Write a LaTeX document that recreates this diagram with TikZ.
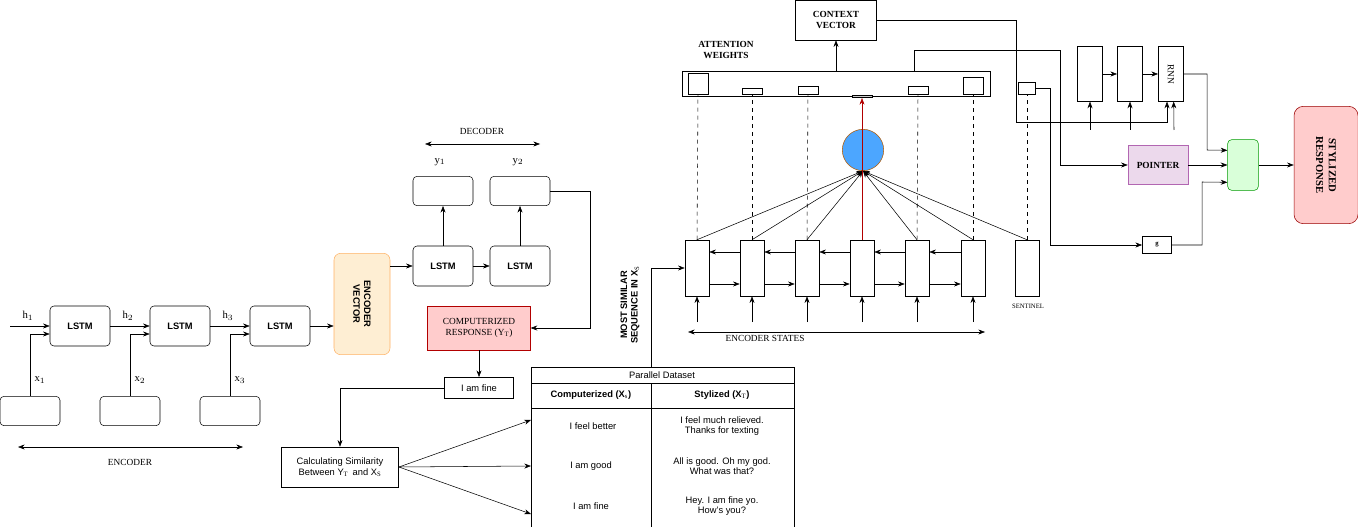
\documentclass[tikz,border=0pt]{standalone}
\usepackage{fontspec}
\setmainfont{Liberation Serif}
\setsansfont{Liberation Sans}
\usepackage{tikz}
\usetikzlibrary{arrows.meta}
\tikzset{
  >={Stealth[length=5pt]},
  lstm/.style={draw, rounded corners=3pt, minimum width=45pt, minimum height=30pt, font=\sffamily\bfseries\scriptsize},
  inbox/.style={draw, rounded corners=3pt, minimum width=45pt, minimum height=22pt},
  state/.style={draw, minimum width=18pt, minimum height=42pt},
  rnnbox/.style={draw, minimum width=19pt, minimum height=41pt},
  lab/.style={font=\footnotesize},
  wt/.style={draw, inner sep=0pt, anchor=south}
}
\begin{document}
\begin{tikzpicture}[x=0.75pt, y=-0.75pt]
\useasboundingbox (0,0) rectangle (1358,527);

% encoder
\foreach \i/\x in {1/80,2/180,3/280}{
  \node[lstm] (L\i) at (\x,326) {LSTM};
  \node[inbox] (X\i) at (\x-50,411) {};
  \draw[->] (X\i.north) |- ([yshift=-6pt]L\i.west);
  \node[lab] at (\x-40,380) {x$_{\i}$};
  \node[lab] at (\x-52,316) {h$_{\i}$};
}
\coordinate (h0) at (10,326);
\draw[->] (h0) -- (L1);
\draw[->] (L1) -- (L2);
\draw[->] (L2) -- (L3);
\coordinate (ea) at (18,447); \coordinate (eb) at (243,447);
\draw[<->] (ea) -- (eb);
\node[font=\scriptsize] at (130,462) {ENCODER};

\node[draw=orange!60, fill=yellow!20!orange!15, rounded corners=5pt, minimum width=42pt, minimum height=76pt] (EV) at (362,304) {};
\node[rotate=-90, align=center, font=\sffamily\bfseries\scriptsize] at (EV) {ENCODER\\VECTOR};
\draw[->] (L3) -- (L3 -| EV.west);

% decoder
\node[lstm] (D1) at (443,266) {LSTM};
\node[lstm] (D2) at (520,266) {LSTM};
\node[inbox] (Y1) at (443,191) {};
\node[inbox] (Y2) at (520,191) {};
\draw[->] (EV.east |- D1) -- (D1);
\draw[->] (D1) -- (D2);
\draw[->] (D1) -- (Y1);
\draw[->] (D2) -- (Y2);
\node[lab] at (440,162) {y$_1$};
\node[lab] at (518,162) {y$_2$};
\coordinate (da) at (425,144); \coordinate (db) at (540,144);
\draw[<->] (da) -- (db);
\node[font=\scriptsize] at (482,131) {DECODER};

\node[draw=red!70!black, fill=red!20, minimum width=77pt, minimum height=33pt, align=center, font=\scriptsize, inner sep=1pt] (CR) at (479,328) {COMPUTERIZED\\RESPONSE (Y$_\mathrm{T}$)};
\draw[->] (Y2.east) -| (590,328) -- (CR.east);
\node[draw, minimum width=52pt, minimum height=16pt, font=\sffamily\scriptsize] (F) at (479,388) {I am fine};
\draw[->] (CR) -- (F);
\node[draw, minimum width=88pt, minimum height=30pt, align=center, font=\sffamily\scriptsize, inner sep=1pt] (CS) at (340,467) {Calculating Similarity\\Between Y$_\mathrm{T}$\, and X$_\mathrm{S}$};
\draw[->] (F.west) -| (CS.north);

% parallel dataset
\draw (531,367) rectangle (794,527);
\draw (531,383) -- (794,383) (531,408) -- (794,408) (651,383) -- (651,527);
\node[font=\sffamily\scriptsize] (PD) at (662,375) {Parallel Dataset};
\node[font=\sffamily\bfseries\scriptsize] at (591,395) {Computerized (X$_\mathrm{s}$)};
\node[font=\sffamily\bfseries\scriptsize] at (722,395) {Stylized (X$_\mathrm{T}$)};
\node[font=\sffamily\scriptsize] (R1) at (593,426) {I feel better};
\node[font=\sffamily\scriptsize] (R2) at (591,466) {I am good};
\node[font=\sffamily\scriptsize] (R3) at (591,506) {I am fine};
\node[font=\sffamily\scriptsize, align=center] at (722,426) {I feel much relieved.\\Thanks for texting};
\node[font=\sffamily\scriptsize, align=center] at (722,466) {All is good. Oh my god.\\What was that?};
\node[font=\sffamily\scriptsize, align=center] at (722,506) {Hey. I am fine yo.\\How's you?};
\coordinate (t1) at (531,420); \coordinate (t2) at (531,466); \coordinate (t3) at (531,514);
\draw[->] (CS.east) -- (t1);
\draw[->] (CS.east) -- (t2);
\draw[->] (CS.east) -- (t3);
\node[rotate=90, align=center, font=\sffamily\bfseries\scriptsize] at (630,305) {MOST SIMILAR\\SEQUENCE IN X$_\mathrm{S}$};

% encoder states
\foreach \i/\x in {1/697,2/752,3/807,4/862,5/917,6/973}{
  \node[state] (S\i) at (\x,268) {};
  \coordinate (s\i) at (\x,322);
  \draw[->] (s\i) -- (S\i.south);
}
\node[state] (S7) at (1027,268) {};
\node[font=\tiny] at (1028,306) {SENTINEL};
\draw[->] (651,367) |- (S1.west);
\foreach \a/\b in {1/2,2/3,3/4,4/5,5/6}{
  \draw[->] ([yshift=-12pt]S\a.east) -- ([yshift=-12pt]S\b.west);
  \draw[->] ([yshift=12pt]S\b.west) -- ([yshift=12pt]S\a.east);
}
\coordinate (sa) at (688,332); \coordinate (sb) at (985,332);
\draw[<->] (sa) -- (sb);
\node[font=\scriptsize] at (765,338) {ENCODER STATES};

% attention
\node[draw=orange!70!black, fill=blue!50!cyan!70, circle, minimum size=31pt, inner sep=0pt] (C) at (863,150) {};
\foreach \i in {1,2,3,5,6}{ \draw[->] (S\i.north) -- (C.south); }
\draw[->] (S7.north) -- (C.south);
\node[draw, minimum width=231pt, minimum height=19pt] (AW) at (836,83.5) {};
\node[font=\scriptsize\bfseries, align=center] at (726,50) {ATTENTION\\WEIGHTS};
\node[wt, minimum width=15pt, minimum height=16pt] (W1) at (698,95) {};
\node[wt, minimum width=15pt, minimum height=5pt] (W2) at (752,95) {};
\node[wt, minimum width=15pt, minimum height=6pt] (W3) at (808,95) {};
\node[wt, fill=gray!40, minimum width=15pt, minimum height=2pt] (W4) at (862,98) {};
\node[wt, minimum width=15pt, minimum height=6pt] (W5) at (918,95) {};
\node[wt, minimum width=15pt, minimum height=13pt] (W6) at (973,95) {};
\foreach \i in {1,2,3,5,6}{ \draw[dashed] (S\i.north) -- (W\i.south); }
\draw[->, red!70!black, thin] (S4.north) -- (W4.south);
\node[draw, minimum width=13pt, minimum height=9pt, inner sep=0pt] (SW) at (1027,88) {};
\draw[dashed] (S7.north) -- (SW.south);

\node[draw, minimum width=61pt, minimum height=30pt, align=center, font=\scriptsize\bfseries, inner sep=1pt] (CV) at (836,20) {CONTEXT\\VECTOR};
\draw[->] (AW.north) -- (CV.south);

% rnn
\node[rnnbox] (N1) at (1090,74) {};
\node[rnnbox] (N2) at (1130,74) {};
\node[rnnbox] (N3) at (1171,74) {};
\node[rotate=-90, font=\scriptsize] at (N3) {RNN};
\draw[->] (N1) -- (N2);
\draw[->] (N2) -- (N3);
\coordinate (n1) at (1090,130); \coordinate (n2) at (1130,130); \coordinate (n3) at (1174,130);
\draw[->] (n1) -- (N1.south);
\draw[->] (n2) -- (N2.south);
\draw[->] (n3) -- ([xshift=2pt]N3.south);
\draw[->] (CV.east) -| (1016,122) -| ([xshift=-3pt]N3.south);

\node[draw=violet!60, fill=violet!15, minimum width=45pt, minimum height=29pt, font=\scriptsize\bfseries] (P) at (1158,165) {POINTER};
\draw[->] (914,71) |- (1060,50) |- (P.west);
\node[draw, minimum width=22pt, minimum height=13pt, font=\tiny\bfseries, inner sep=0pt] (G) at (1157,245) {g};
\draw[->] (SW.east) -| (1050,245) -- (G.west);

\node[draw=green!60!black, fill=green!15, rounded corners=3pt, minimum width=23pt, minimum height=38pt] (M) at (1243,165) {};
\draw[->] (N3.east) -| (1207,150) -- ([yshift=11pt]M.west);
\draw[->] (P.east) -- (M.west);
\draw[->] (G.east) -| (1202,182) -- ([yshift=-13pt]M.west);

\node[draw=red!60!black, fill=red!20, rounded corners=7pt, minimum width=48pt, minimum height=88pt] (SR) at (1326,165) {};
\node[rotate=-90, align=center, font=\footnotesize\bfseries] at (SR) {STYLIZED\\RESPONSE};
\draw[->] (M) -- (SR);
\end{tikzpicture}
\end{document}
